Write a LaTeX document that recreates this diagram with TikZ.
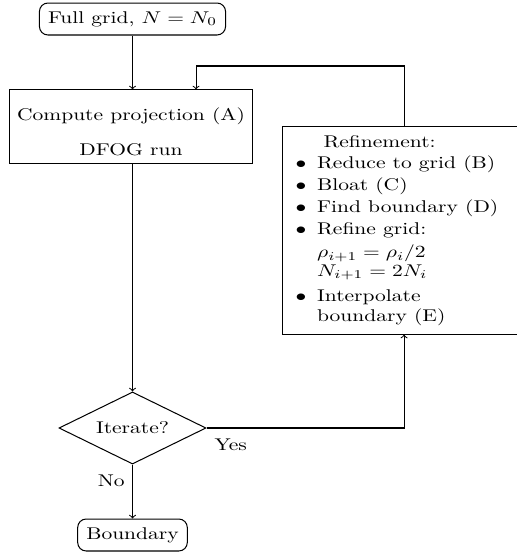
\documentclass[tikz,border=0pt]{standalone}
\usetikzlibrary{shapes.geometric}
\begin{document}
\begin{tikzpicture}[x=0.4648pt, y=-0.588pt, xscale=1.265,
  every node/.append style={transform shape},
  line width=0.6pt,
  term/.style={draw, rounded corners=5pt, inner xsep=4pt, minimum height=18.8pt},
  proc/.style={draw, align=center, minimum width=109.8pt, minimum height=43pt},
  dec/.style={draw, diamond, aspect=1.6, minimum width=68.4pt, minimum height=42.4pt, inner sep=1pt},
  refbox/.style={draw, minimum width=112.6pt, minimum height=121.8pt, inner sep=0pt},
  conn/.style={->}]
\useasboundingbox (0,0) rectangle (517,553);
\node[term] (full) at (132.5,19) {Full grid, $N=N_0$};
\node[proc] (comp) at (131,126.5) {\rule{0pt}{13.5pt}Compute projection (A)\\[8.6pt]DFOG run};
\node[dec] (it) at (132.5,428) {Iterate?};
\node[term] (bd) at (132.5,535) {Boundary};
\node[refbox] (ref) at (404,230.5) {%
  \begin{tabular}{@{}c@{\hspace{5pt}}l@{\hspace{6.5pt}}}
  \multicolumn{2}{@{\hspace{13pt}}l@{\hspace{6.5pt}}}{Refinement:}\\[0.4pt]
  $\bullet$ & Reduce to grid (B)\\[0.8pt]
  $\bullet$ & Bloat (C)\\[1.1pt]
  $\bullet$ & Find boundary (D)\\[1pt]
  $\bullet$ & Refine grid:\\[1.5pt]
   & $\rho_{i+1}=\rho_i/2$\\[-1pt]
   & $N_{i+1}=2N_i$\\[2.7pt]
  $\bullet$ & Interpolate\\
   & boundary (E)
  \end{tabular}};
\coordinate (lp) at (196,66);
\draw[conn] (full.south) -- (full.south |- comp.north);
\draw[conn] (ref.north) |- (lp) -- (lp |- comp.north);
\draw[conn] (comp.south -| it.north) -- (it.north);
\draw[conn] (it.east) node[below right, yshift=-3pt] {Yes} -| (ref.south);
\draw[conn] (it.south) -- node[left, pos=0.3] {No} (bd.north);
\end{tikzpicture}
\end{document}
